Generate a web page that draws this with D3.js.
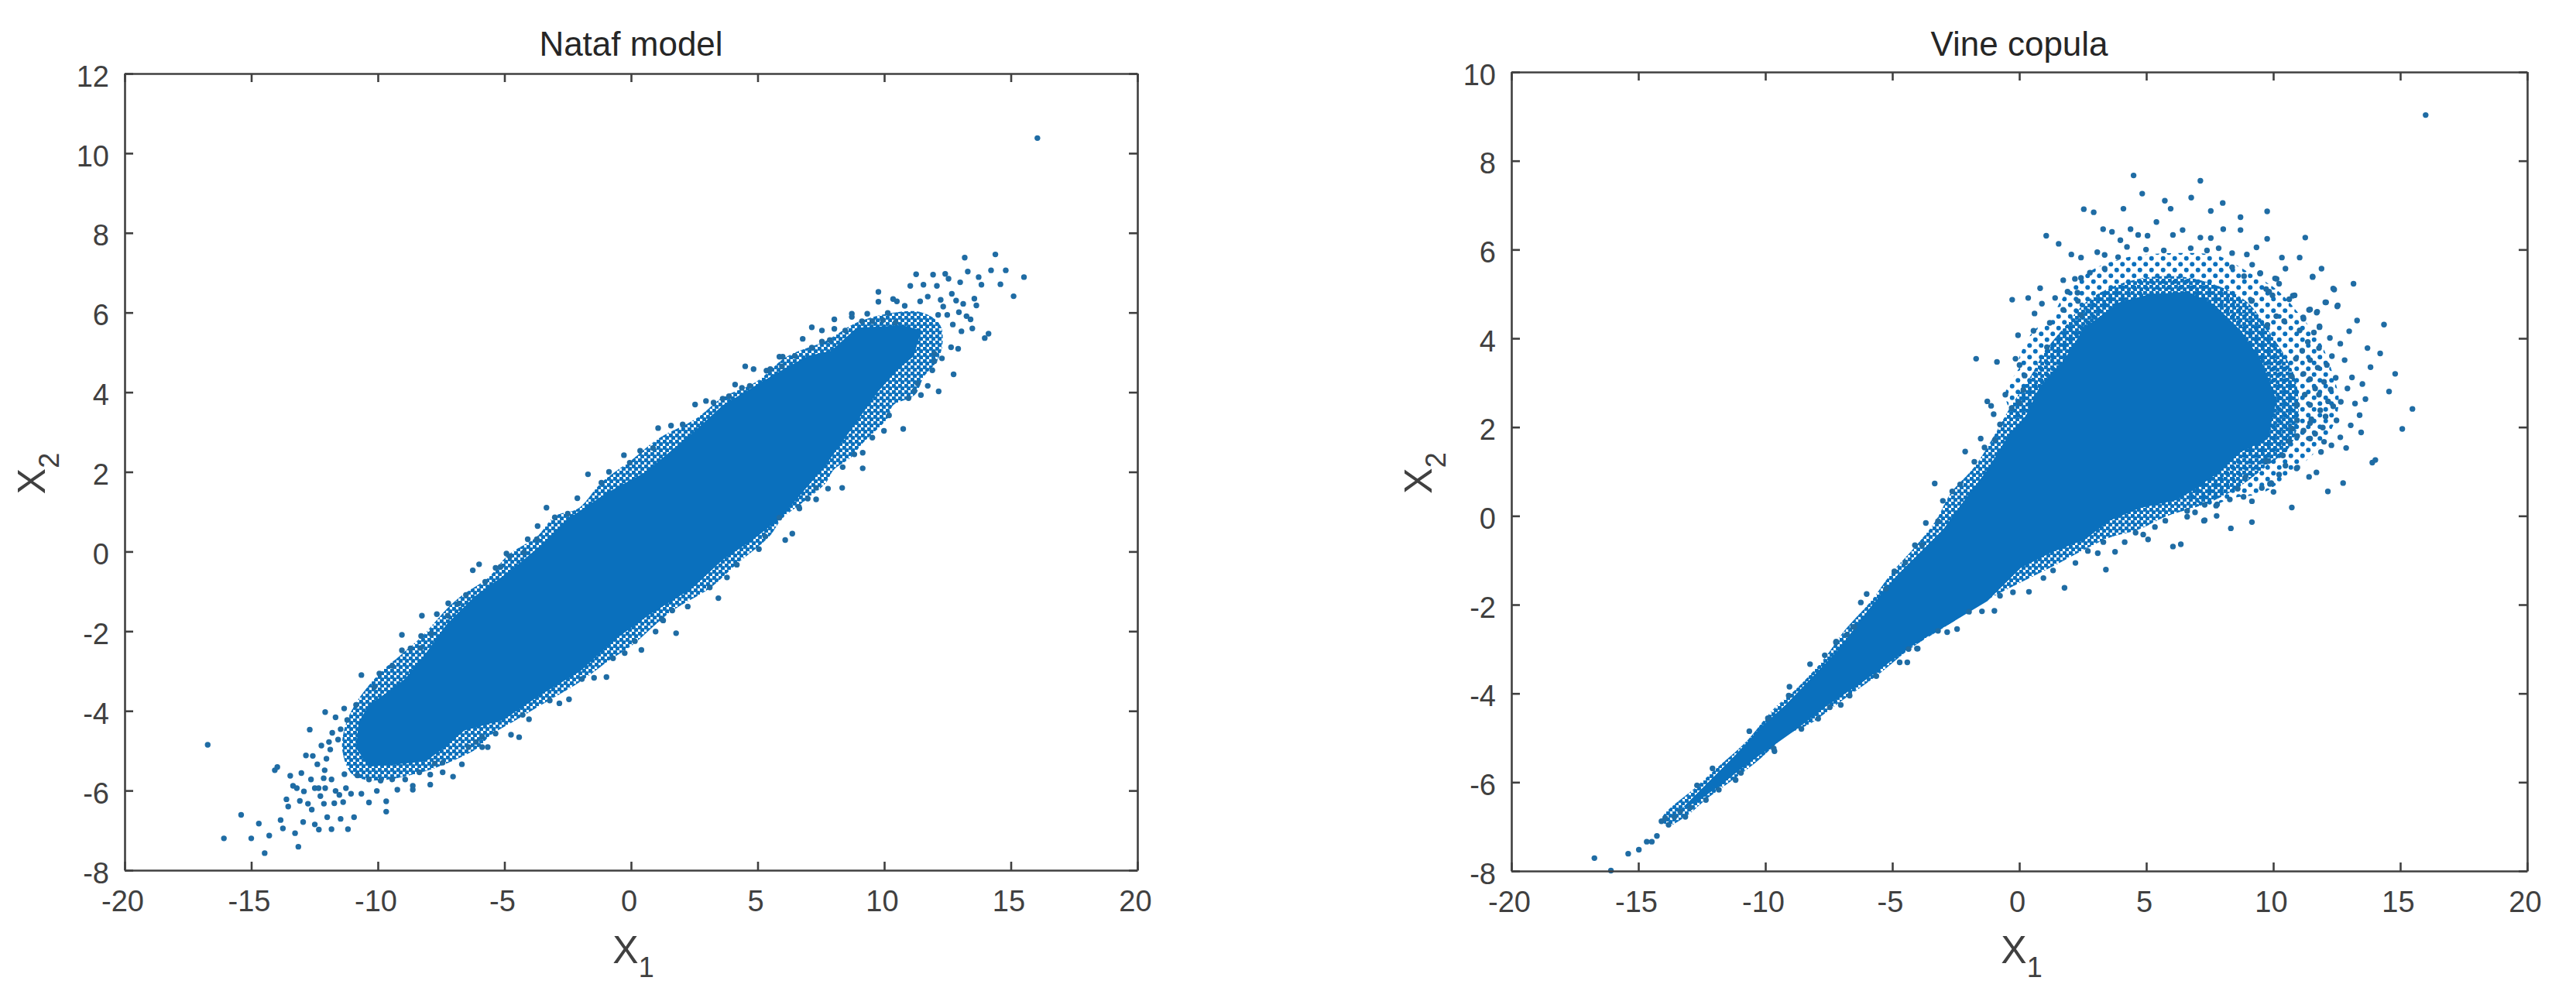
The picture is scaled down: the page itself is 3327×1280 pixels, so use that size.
<!DOCTYPE html>
<html>
<head>
<meta charset="utf-8">
<script src="https://cdnjs.cloudflare.com/ajax/libs/d3/7.8.5/d3.min.js"></script>
<style>
html,body{margin:0;padding:0;background:#fff}
svg{display:block;font-family:"Liberation Sans",Arial,sans-serif}
</style>
</head>
<body>
<svg id="chart" width="3327" height="1280"></svg>
<script>
// ---------- tick labels ----------
const xTicks = [-20,-15,-10,-5,0,5,10,15,20];
const leftYTicks = [-8,-6,-4,-2,0,2,4,6,8,10,12];
const rightYTicks = [-8,-6,-4,-2,0,2,4,6,8,10];
const titles = ["Nataf model","Vine copula"];

// ---------- Nataf model: saturated core outline ----------
const natafCore = [[-10.35,-3.84],[-9.73,-3.58],[-8.92,-3.19],[-8.1,-2.55],[-7.29,-1.83],[-6.17,-1.12],[-4.74,-0.47],[-3.52,0.18],[-2.5,0.82],[-0.97,1.47],[0.56,1.99],[2.4,2.96],[3.62,3.67],[4.64,4.06],[5.66,4.45],[6.98,4.91],[7.9,5.04],[8.92,5.62],[10.75,5.68],[11.47,5.55],[11.16,4.9],[10.55,4.58],[9.74,4.0],[8.72,3.09],[7.7,2.18],[6.68,1.41],[5.86,0.82],[4.84,0.31],[3.62,-0.21],[2.4,-0.93],[0.76,-1.57],[-0.66,-2.22],[-1.99,-3.0],[-3.52,-3.58],[-5.05,-4.23],[-6.58,-4.49],[-7.29,-4.88],[-8.11,-5.27],[-9.13,-5.33],[-10.35,-5.4],[-10.86,-4.94],[-10.76,-4.29]];

// ---------- Nataf model: outer edge of the dense hatched fringe ----------
const natafFringe = [[-10.9,-3.84],[-9.94,-3.06],[-9.12,-2.61],[-8.2,-2.09],[-7.19,-1.38],[-6.57,-1.05],[-5.66,-0.67],[-4.84,-0.08],[-3.72,0.37],[-3.0,0.89],[-2.09,1.08],[-1.17,1.73],[0.05,2.31],[1.07,2.83],[2.6,3.35],[3.62,3.87],[4.94,4.26],[6.17,4.9],[7.7,5.29],[8.92,5.75],[10.4,6.0],[11.5,6.0],[12.2,5.7],[12.3,5.2],[12.1,4.8],[11.57,4.39],[11.2,3.93],[10.35,3.67],[10.14,3.35],[9.12,2.7],[8.72,2.38],[8.0,2.05],[7.7,1.73],[6.88,1.28],[5.96,0.82],[5.45,0.37],[4.13,-0.34],[3.11,-0.92],[1.58,-1.51],[0.05,-2.35],[-0.87,-2.74],[-1.99,-3.26],[-3.52,-3.84],[-4.54,-4.23],[-5.56,-4.62],[-6.07,-4.94],[-7.6,-5.4],[-8.62,-5.6],[-10.15,-5.75],[-11.0,-5.6],[-11.4,-5.0],[-11.3,-4.4]];

// ---------- Nataf model: individually visible points ----------
const natafPoints = [[16.05,10.38],[-16.72,-4.85],[-16.08,-7.2],[-15.4,-6.61],[-15.0,-7.2],[-14.7,-6.83],[-14.29,-7.13],[-14.47,-7.57],[-13.84,-6.74],[-13.75,-6.95],[-13.27,-7.07],[-13.14,-7.41],[-12.95,-6.79],[-12.49,-6.85],[-12.33,-6.98],[-11.83,-6.97],[-11.18,-6.97],[-12.0,-6.67],[-11.47,-6.71],[-10.94,-6.67],[-9.67,-6.27],[-9.67,-6.53],[-10.35,-6.30],[-13.61,-6.22],[-13.54,-6.40],[-13.08,-6.26],[-12.76,-6.33],[-12.61,-6.48],[-12.13,-6.33],[-11.72,-6.32],[-11.37,-6.29],[-14.07,-5.49],[-13.97,-5.41],[-13.46,-5.63],[-13.02,-5.56],[-13.35,-5.88],[-13.2,-5.94],[-12.92,-6.02],[-12.49,-5.94],[-12.34,-5.94],[-12.27,-6.14],[-12.64,-5.72],[-12.84,-5.12],[-12.57,-5.13],[-12.69,-4.47],[-12.08,-4.03],[-11.67,-4.16],[-11.33,-3.94],[-10.86,-3.85],[-12.23,-4.87],[-11.93,-4.78],[-11.88,-4.97],[-12.39,-5.34],[-12.1,-5.49],[-12.03,-5.2],[-11.8,-4.55],[-11.57,-4.72],[-11.21,-4.23],[-11.47,-4.46],[-11.67,-6.01],[-11.52,-6.11],[-12.08,-5.94],[-12.14,-5.69],[-11.83,-5.72],[-11.26,-5.94],[-11.06,-6.08],[-10.65,-6.08],[-10.04,-6.01],[-9.23,-5.98],[-8.62,-5.88],[-8.62,-5.98],[-7.93,-5.85],[-7.93,-5.6],[-7.44,-5.54],[-7.03,-5.65],[-7.75,-5.32],[-7.44,-5.3],[-6.68,-5.34],[-8.36,-5.54],[-8.92,-5.72],[-9.43,-5.72],[-9.89,-5.75],[-10.35,-5.72],[-10.81,-5.62],[-11.32,-5.59],
[14.39,7.46],[13.18,7.38],[13.30,7.03],[14.22,7.06],[14.80,7.06],[15.52,6.89],[13.73,6.89],[13.84,6.70],[14.59,6.71],[15.11,6.41],[11.26,6.96],[11.93,6.95],[12.41,6.97],[12.54,6.85],[13.0,6.76],[11.03,6.67],[11.55,6.70],[12.08,6.67],[9.77,6.52],[9.77,6.27],[10.35,6.34],[10.5,6.28],[11.72,6.40],[11.42,6.28],[12.23,6.32],[12.67,6.47],[12.84,6.30],[13.12,6.22],[13.56,6.35],[13.64,6.18],[12.33,6.15],[12.95,6.01],[13.25,5.91],[13.41,5.83],[12.49,5.94],[12.13,5.94],[13.48,5.6],[13.05,5.53],[12.71,5.70],[13.97,5.36],[14.12,5.47],[12.64,5.13],[12.92,5.09],[12.28,4.85],[12.74,4.45],[11.9,4.55],[11.98,4.97],[11.98,4.78],[11.72,4.16],[12.15,4.02],[11.45,3.93],[11.19,4.03],[10.96,3.85],[11.32,4.22],[10.75,3.08],[10.19,3.42],[9.99,3.03],[9.53,2.86],[9.15,2.48],[9.15,2.09],[8.36,2.12],[8.82,2.44],[8.34,1.60],[7.78,1.58],[7.31,1.60],[7.31,1.31],[6.98,1.33],[6.63,1.12],[5.86,0.85],
[8.72,5.97],[8.72,5.89],[9.33,5.97],[8.03,5.83],[8.03,5.59],[8.46,5.55],[7.14,5.63],[7.54,5.55],[6.78,5.34],[7.54,5.27],[7.85,5.31],[7.14,5.12],[5.86,4.89],[5.99,4.89],[6.47,4.91],[5.96,4.65],[4.51,4.65],[4.84,4.58],[5.35,4.54],[5.5,4.58],[4.11,4.19],[4.38,4.11],[4.69,4.16],[2.96,3.78],[3.26,3.74],[3.62,3.84],[3.87,3.9],[10.14,5.99],[10.81,6.17],[9.12,5.78],[9.53,5.78],[9.94,5.81],[10.45,5.75],
[2.53,3.69],[1.07,3.10],[1.58,3.16],[2.04,3.19],[-0.28,2.42],[0.36,2.53],[0.87,2.6],[-0.87,2.0],[-1.70,1.94],[-0.05,2.23],[-1.17,1.73],[-2.12,1.34],[-3.34,1.10],[-2.5,0.95],[-3.01,0.86],[-3.69,0.64],[-4.08,0.31],[-3.72,0.31],[-4.92,-0.05],[-4.79,-0.12],[-4.23,-0.02],[-6.0,-0.32],[-6.25,-0.47],[-5.35,-0.41],[-5.15,-0.38],[-5.76,-0.76],[-6.52,-1.09],[-7.22,-1.30],[-6.83,-1.31],[-8.26,-1.61],[-7.67,-1.57],[-7.24,-1.61],[-9.05,-2.09],[-8.29,-2.12],[-7.9,-2.06],[-9.05,-2.48],[-8.71,-2.43],[-8.31,-2.42],[-10.65,-3.1],[-9.94,-3.06],[-9.43,-2.87],[-10.14,-3.4],
[2.24,-1.38],[1.78,-2.05],[0.97,-2.01],[1.22,-1.70],[0.41,-2.47],[0.15,-2.25],[-0.25,-2.55],[-0.97,-3.15],[-1.46,-3.17],[-0.71,-2.68],[-1.94,-3.2],[1.63,-1.48],[6.65,1.08],[6.37,0.45],[6.09,0.29],[5.30,0.38],[5.05,0.06],[4.18,-0.33],[3.79,-0.65],[3.11,-0.90],[3.45,-1.17],[1.27,-1.73],[-2.45,-3.71],[-2.83,-3.81],[-3.21,-3.74],[-4.03,-4.21],[-4.28,-4.10],[-4.42,-4.66],[-4.74,-4.6],[-5.35,-4.57],[-5.88,-4.65],[-5.66,-4.91],[-5.88,-4.91],[-6.12,-4.78],[-6.42,-4.91]];

// ---------- Vine copula: saturated core outline ----------
const vineCore = [[-13.25,-6.57],[-12.23,-5.99],[-11.22,-5.41],[-10.2,-4.77],[-9.19,-4.25],[-8.17,-3.64],[-7.15,-3.03],[-5.84,-2.04],[-4.82,-1.34],[-3.8,-0.76],[-2.99,-0.3],[-2.18,0.34],[-1.26,1.04],[-0.45,1.8],[0.26,2.26],[0.79,2.9],[1.73,3.48],[2.54,4.23],[3.94,4.81],[5.11,4.99],[6.63,5.05],[7.68,4.76],[8.73,4.17],[9.55,3.48],[10.13,2.6],[9.78,1.73],[8.73,1.44],[7.88,0.99],[6.87,0.58],[6.16,0.35],[4.73,0.17],[3.51,-0.12],[2.6,-0.53],[1.28,-0.82],[0.06,-1.17],[-1.26,-1.92],[-2.79,-2.45],[-4.01,-2.85],[-4.61,-3.09],[-6.14,-3.73],[-7.66,-4.31],[-8.68,-4.77],[-9.69,-5.18],[-10.71,-5.59],[-11.73,-6.05],[-12.74,-6.46]];

// ---------- Vine copula: outer edge of the dense hatched band ----------
const vineBand = [[-14.06,-6.81],[-12.74,-6.11],[-11.73,-5.59],[-10.71,-5.06],[-9.69,-4.36],[-8.68,-3.84],[-7.66,-3.2],[-6.85,-2.56],[-5.84,-1.92],[-5.02,-1.28],[-4.11,-0.7],[-3.3,-0.12],[-2.69,0.52],[-1.77,1.1],[-1.0,1.8],[-0.3,2.5],[0.4,3.1],[1.0,3.7],[1.7,4.2],[2.7,4.85],[4.1,5.25],[5.6,5.4],[7.2,5.3],[8.9,4.85],[9.9,4.1],[10.8,3.2],[11.0,2.4],[10.7,1.6],[9.7,1.1],[8.5,0.6],[7.38,0.28],[5.75,-0.02],[4.73,-0.3],[3.51,-0.5],[2.5,-0.78],[1.28,-1.15],[0.06,-1.5],[-1.16,-1.86],[-1.98,-2.16],[-3.09,-2.56],[-4.31,-3.0],[-5.63,-3.61],[-7.05,-4.19],[-8.17,-4.66],[-9.19,-4.95],[-10.2,-5.47],[-11.12,-5.88],[-12.23,-6.34],[-13.15,-6.78],[-13.86,-6.98]];

// ---------- Vine copula: outer edge of the sparse hatched halo ----------
const vineHalo = [[-0.55,2.73],[0.06,3.43],[-0.02,3.48],[0.56,4.17],[1.2,4.41],[1.73,4.93],[2.78,5.51],[4.3,5.83],[6.04,5.92],[7.8,5.86],[8.96,5.51],[10.13,5.1],[11.06,4.52],[11.88,3.88],[12.35,3.19],[12.58,2.6],[12.35,2.02],[11.65,1.44],[10.48,0.86],[9.55,0.51],[8.39,0.4],[7.38,0.23],[6.5,0.6],[7,2],[3,3],[0,2.2]];

// ---------- Vine copula: individually visible points ----------
const vinePoints = [[16.0,9.03],[-16.73,-7.71],[-16.08,-7.99],[-15.4,-7.61],[-14.98,-7.52],[-14.67,-7.34],[-14.47,-7.34],[-14.27,-7.21],[-14.09,-6.88],[-13.94,-6.81],[-13.81,-6.96],[-13.58,-6.78],[-13.15,-6.78],[-13.35,-6.66],[-12.95,-6.57],[-12.69,-6.07],[-12.34,-6.4],[-12.08,-5.69],[-11.83,-6.17],[-11.17,-5.95],[-10.96,-5.79],[-10.63,-4.85],[-9.64,-5.3],[-9.67,-5.24],[-9.9,-4.56],[-9.05,-3.85],[-9.08,-4.05],[-8.58,-4.8],[-7.92,-4.57],[-7.46,-4.31],[-7.03,-4.26],[-6.68,-4.05],[-8.24,-3.34],[-7.66,-3.14],[-7.22,-2.85],[-6.8,-2.68],[-6.49,-2.5],[-5.63,-3.61],[-4.71,-3.3],[-4.41,-3.3],[-4.0,-2.99],
[-1.7,3.54],[-0.88,3.47],[-0.15,3.54],[0.01,3.4],[0.21,3.16],[-1.26,2.58],[-1.11,2.48],[-1.01,2.29],[-0.55,2.73],[-0.3,2.43],[0.16,2.84],[0,2.55],[-0.76,2.06],[-1.52,1.74],[-1.37,1.54],[-0.96,1.71],[-2.13,1.45],[-1.77,1.22],[-3.33,0.73],[-2.33,0.71],[-3.01,0.34],[-2.64,0.55],[-3.68,-0.16],[-3.2,-0.12],[-4.11,-0.66],[-3.83,-0.66],[-4.49,-1.05],[-4.92,-1.25],[-5.25,-1.64],[-6.01,-1.76],[-6.24,-1.95],[-6.55,-2.5],[-7.21,-2.83],
[6.36,-0.64],[6.05,-0.69],[5.07,-0.53],[4.58,-0.38],[4.88,-0.42],[5.34,-0.25],[5.75,-0.11],[4.15,-0.59],[3.77,-0.81],[3.41,-1.21],[3.09,-0.84],[2.7,-0.79],[3.31,-0.59],[2.21,-1.06],[1.78,-1.62],[0.95,-1.4],[1.33,-1.23],[0.38,-1.71],[-0.25,-1.72],[-0.76,-1.8],[-0.98,-2.14],[-1.47,-2.15],[-1.98,-2.16],[-2.45,-2.55],[-2.84,-2.62],[-3.2,-2.59],[-4.03,-2.99],[-4.36,-3.0],[6.61,0.11],[6.92,0.08],[6.61,-0.02],[7.27,-0.11],
[4.5,7.67],[7.13,7.55],[4.84,7.26],[6.77,7.17],[5.73,7.1],[5.96,6.92],[8.01,7.05],[4.1,6.92],[2.54,6.91],[2.93,6.84],[7.54,6.87],[9.76,6.86],[8.71,6.73],[5.4,6.62],[3.3,6.46],[3.65,6.4],[4.38,6.46],[4.68,6.33],[5.05,6.31],[6.05,6.33],[6.43,6.44],[8.03,6.46],[8.71,6.44],[1.06,6.31],[1.55,6.13],[7.13,6.27],[7.54,6.26],[9.76,6.24],[11.26,6.27],[3.98,6.21],[4.24,6.06],[2.05,5.89],[2.43,5.82],[3.07,5.94],[3.36,5.88],[3.89,5.83],[4.99,6.0],[5.69,5.98],[6.75,6.03],[7.39,5.98],[7.85,6.03],[8.38,5.92],[8.96,5.89],[9.34,6.05],[10.34,5.82],[11.04,5.82],[10.48,5.57],[11.9,5.57],[11.55,5.38],[2.78,5.48],[3.36,5.57],[1.73,5.31],[2.19,5.34],[2.43,5.36],[9.17,5.66],[8.38,5.6],[9.49,5.47],[8.85,5.4],[10.13,5.34],[0.82,5.13],[-0.28,4.87],[0.35,4.91],[0.89,4.78],[1.41,4.91],[1.90,5.05],[2.29,5.03],[0.6,4.56],[12.4,5.1],[13.16,5.23],[10.77,4.96],[9.84,5.05],[9.14,4.84],[12.08,4.81],[12.52,4.72],[11.41,4.64],[11.71,4.58],[11.18,4.47],[13.3,4.4],[14.36,4.31],[12.99,4.16],[11.82,4.25],[12.23,4.01],[12.64,3.88],[13.71,3.78],[14.21,3.66],[12.81,3.51],[13.83,3.35],[14.8,3.2],[13.1,3.12],[14.56,2.8],[13.51,2.97],[13.63,2.63],[13.22,2.53],[13.4,2.27],[13.05,2.04],[13.46,1.88],[12.64,1.77],[12.87,1.53],[12.29,1.59],[11.88,1.44],[14.02,1.26],[13.9,1.2],[12.75,0.74],[12.15,0.55],[11.7,0.98],[11.41,0.88],[10.01,0.54],[9.55,0.63],[10.95,1.09],[9.72,1.24],[-0.05,4.07],[0.56,4.17],[1.2,4.35],[1.73,4.64],[2.31,4.84],[2.43,4.52],[1.09,3.8],
[15.48,2.41],[15.08,1.96],[10.73,0.19],[9.16,-0.14],[8.33,-0.28],[7.77,0.0],[9.16,0.33],[10.92,1.07],[12.31,3.6],[12.92,2.87],[12.26,2.85],[12.46,3.11],[12.66,2.57],[12.16,2.58],[12.49,2.15],[11.95,1.99],[12.06,2.24],[12,1.67],[11.65,1.85],[11.45,1.74],[11.5,2.18],[11.85,2.38],[12.36,2.47],[11.8,2.73],[12,3.02],[11.65,2.87],[11.75,3.34],[12.11,3.4],[11.8,3.78],[11.36,3.92],[11.6,4.13],[11.82,4.27],[11.19,4.44],[11.04,4.18],[11.45,3.51],[11.14,3.72],[10.89,3.54],[11.19,3.2],[11.45,3.08],[10.73,3.14],[11.45,2.5],[11.24,2.73],[10.94,2.5],[11.45,2.09],[10.94,2.15],[11.19,1.92],[10.73,1.97],[10.94,1.8],[10.63,1.68],[10.38,1.36],[10.48,1.13],[10.23,0.93],[9.77,1.23],[9.87,0.72],[8.9,0.87],[8.6,0.61],[8.29,0.37],[7.79,0.26],[10.12,4.5],[10.43,4.39],[10.63,4.88],[10.84,4.97],[9.77,4.3],[9.16,4.85],[10.07,5.35],[9.48,5.46],[10.23,5.23],[11.45,4.65],[11.73,4.6],[12.05,4.81],[12.54,4.74],[12.36,5.12],[11.55,5.39],[9.72,5.11],[9.97,4.97],[7.3,-0.1],[7.75,0.23],[7.3,0.25],[8.83,0.43],[9.92,0.74]];

// ---------- drawing ----------
const W = 3327, H = 1280;
const svg = d3.select("#chart").attr("viewBox", `0 0 ${W} ${H}`);
const coreColor = "#0a70bd", dotColor = "#1f6ca4", axisColor = "#404040";

const defs = svg.append("defs");
function dotPattern(id, s, r){
  const p = defs.append("pattern").attr("id",id).attr("patternUnits","userSpaceOnUse")
    .attr("width",s).attr("height",s);
  [[s/4,s/4],[3*s/4,3*s/4]].forEach(c => p.append("circle").attr("cx",c[0]).attr("cy",c[1]).attr("r",r).attr("fill",coreColor));
}
dotPattern("dense", 8, 3);
dotPattern("sparse", 15, 3);

function panel(cfg){
  const x = d3.scaleLinear().domain([-20,20]).range([cfg.left,cfg.right]);
  const y = d3.scaleLinear().domain(d3.extent(cfg.yTicks)).range([cfg.bottom,cfg.top]);
  const g = svg.append("g");
  const outline = d3.line().x(d=>x(d[0])).y(d=>y(d[1]));
  const smooth = d3.line().x(d=>x(d[0])).y(d=>y(d[1])).curve(d3.curveCatmullRomClosed);

  cfg.bands.forEach(b => g.append("path").datum(b.shape).attr("d", smooth).attr("fill", `url(#${b.pattern})`));
  g.append("path").datum(cfg.core).attr("d", outline.curve(d3.curveLinearClosed)).attr("fill", coreColor);
  g.append("g").selectAll("circle").data(cfg.points).join("circle")
    .attr("cx", d=>x(d[0])).attr("cy", d=>y(d[1])).attr("r", 3.7).attr("fill", dotColor);

  const tl = 11;
  const style = s => {
    s.attr("font-family", null).attr("font-size", null);
    s.selectAll(".domain,line").attr("stroke", axisColor).attr("stroke-width", 2.6);
    s.selectAll("text").attr("fill", axisColor).attr("font-size", 38);
  };
  g.append("g").attr("transform",`translate(0,${cfg.bottom})`)
    .call(d3.axisBottom(x).tickValues(xTicks).tickFormat(String).tickSizeInner(-tl).tickSizeOuter(0).tickPadding(26))
    .call(style).selectAll("text").attr("dx",-3);
  g.append("g").attr("transform",`translate(0,${cfg.top})`)
    .call(d3.axisTop(x).tickValues(xTicks).tickFormat("").tickSizeInner(-tl).tickSizeOuter(0)).call(style);
  g.append("g").attr("transform",`translate(${cfg.left},0)`)
    .call(d3.axisLeft(y).tickValues(cfg.yTicks).tickFormat(String).tickSizeInner(-tl).tickSizeOuter(0).tickPadding(20))
    .call(style).selectAll("text").attr("dy","0.32em").attr("y",4);
  g.append("g").attr("transform",`translate(${cfg.right},0)`)
    .call(d3.axisRight(y).tickValues(cfg.yTicks).tickFormat("").tickSizeInner(-tl).tickSizeOuter(0)).call(style);

  g.append("text").attr("x",(cfg.left+cfg.right)/2).attr("y",72).attr("text-anchor","middle")
    .attr("font-size",44).attr("fill","#262626").text(cfg.title);

  const xl = g.append("text").attr("x",(cfg.left+cfg.right)/2+3).attr("y",1244).attr("text-anchor","middle")
    .attr("font-size",50).attr("fill",axisColor);
  xl.append("tspan").text("X");
  xl.append("tspan").attr("dy",18).attr("font-size",36).text("1");

  const yl = g.append("text").attr("transform",`translate(${cfg.left-103},${(cfg.top+cfg.bottom)/2+2}) rotate(-90)`)
    .attr("text-anchor","middle").attr("font-size",50).attr("fill",axisColor);
  yl.append("tspan").text("X");
  yl.append("tspan").attr("dy",18).attr("font-size",36).text("2");
}

panel({left:161,right:1469,top:95,bottom:1124,yTicks:leftYTicks,core:natafCore,bands:[{shape:natafFringe,pattern:"dense"}],points:natafPoints,title:titles[0]});
panel({left:1952,right:3264,top:93,bottom:1125,yTicks:rightYTicks,core:vineCore,bands:[{shape:vineHalo,pattern:"sparse"},{shape:vineBand,pattern:"dense"}],points:vinePoints,title:titles[1]});
</script>
</body>
</html>
